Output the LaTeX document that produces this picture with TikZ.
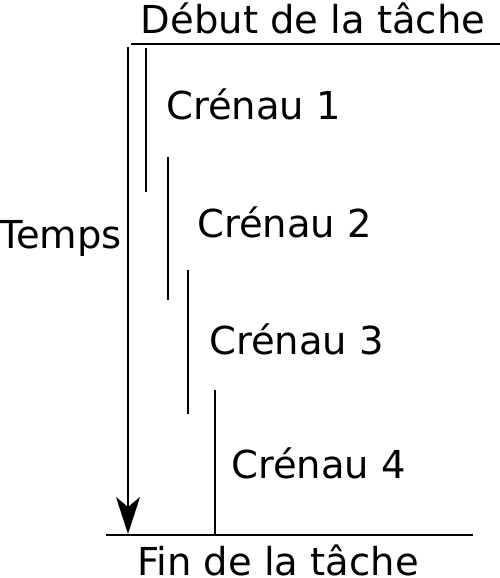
\documentclass[tikz,border=0pt]{standalone}
\usepackage{fontspec}
\setmainfont{DejaVu Sans}
\usetikzlibrary{arrows.meta}
\begin{document}
\begin{tikzpicture}[x=1pt,y=-1pt,
  lbl/.style={font=\fontsize{38.5}{42}\selectfont, inner sep=0pt},
  rule/.style={line width=2pt},
  slot/.style={line width=2pt}]
\useasboundingbox (0,0) rectangle (500,578);
% top and bottom rules
\coordinate (t1) at (131,44); \coordinate (t2) at (500,44);
\coordinate (b1) at (106,535); \coordinate (b2) at (473,535);
\draw[rule] (t1) -- (t2);
\draw[rule] (b1) -- (b2);
% time arrow
\coordinate (a1) at (128,47); \coordinate (a2) at (128,534);
\draw[rule,-{Stealth[length=37pt,width=24pt,inset=10pt]}] (a1) -- (a2);
% slots
\coordinate (s1a) at (146,48);  \coordinate (s1b) at (146,192);
\coordinate (s2a) at (168,157); \coordinate (s2b) at (168,300);
\coordinate (s3a) at (188,270); \coordinate (s3b) at (188,414);
\coordinate (s4a) at (215,390); \coordinate (s4b) at (215,535);
\draw[slot] (s1a) -- (s1b);
\draw[slot] (s2a) -- (s2b);
\draw[slot] (s3a) -- (s3b);
\draw[slot] (s4a) -- (s4b);
% labels
\node[lbl] (debut) at (313,18) {Début de la tâche};
\node[lbl,anchor=base,text depth=0pt] (fin) at (278,575) {Fin de la tâche};
\node[lbl,anchor=west] (temps) at (-1,238) {Temps};
\node[lbl,anchor=west] (c1) at (166,104) {Crénau 1};
\node[lbl,anchor=west] (c2) at (197,222) {Crénau 2};
\node[lbl,anchor=west] (c3) at (209,339) {Crénau 3};
\node[lbl,anchor=west] (c4) at (231,463) {Crénau 4};
\end{tikzpicture}
\end{document}
